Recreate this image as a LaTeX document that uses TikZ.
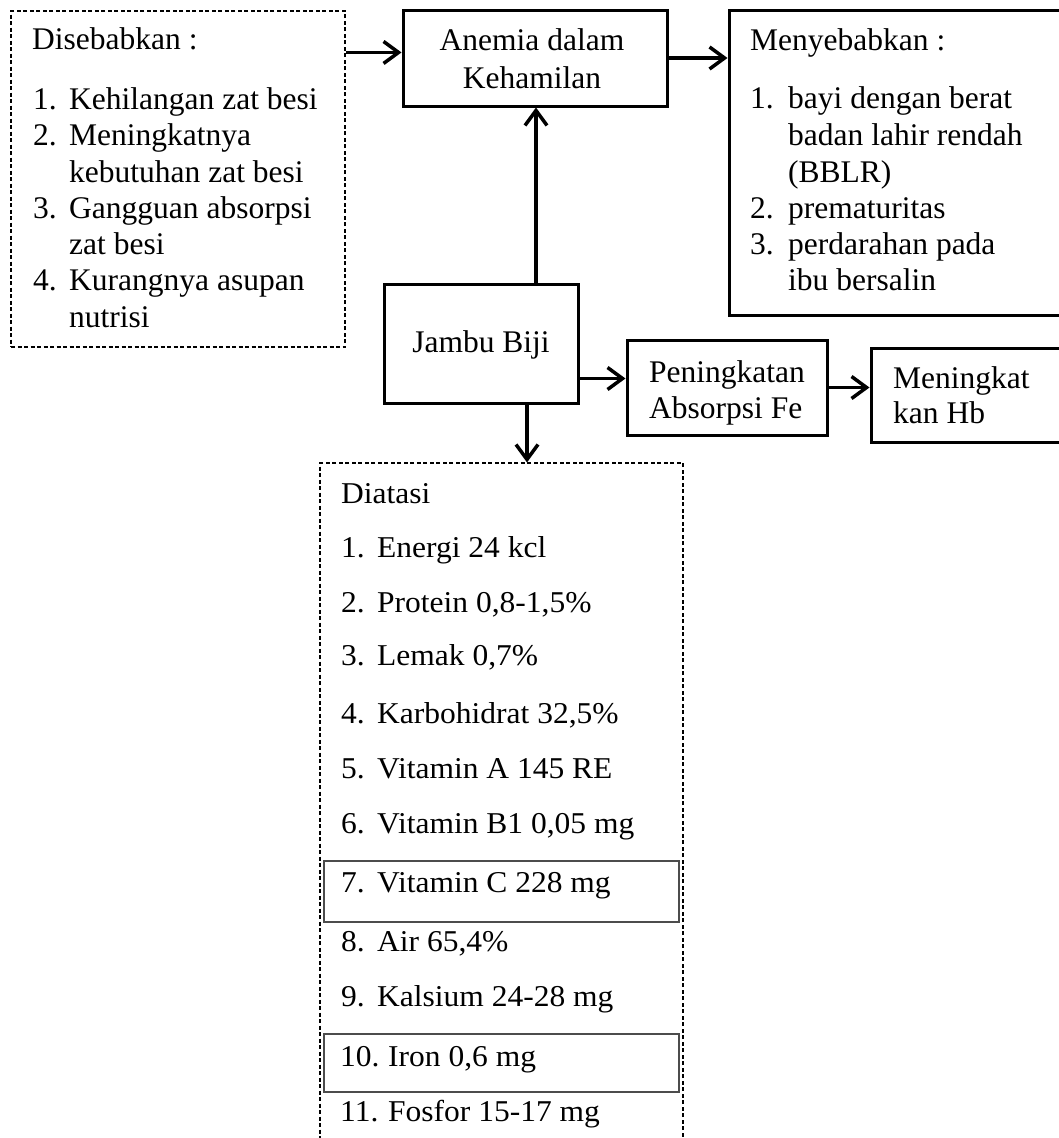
\documentclass[tikz,border=0pt]{standalone}
\usepackage{fontspec}
\setmainfont{Liberation Serif}
\usepackage{graphicx}
\usetikzlibrary{arrows.meta}
\newcommand{\sq}[1]{\scalebox{1}[0.96]{#1}}
\begin{document}
\begin{tikzpicture}[x=1pt,y=-1pt,
  solidbox/.style={draw,line width=3pt,inner sep=0pt},
  dashbox/.style={draw,line width=1.1pt,dash pattern=on 4pt off 2.5pt,inner sep=0pt},
  thinbox/.style={draw=black!70,line width=1.6pt,inner sep=0pt},
  txt/.style={inner sep=0pt,anchor=base west,font=\fontsize{31.5}{36}\selectfont},
  ctxt/.style={txt,anchor=base},
  arr/.style={line width=3.5pt,-{Straight Barb[length=15pt,width=22pt,line width=3.5pt]}}]
\useasboundingbox (0,0) rectangle (1059,1138);
\clip (0,0) rectangle (1059,1138);

% boxes
\node[dashbox,minimum width=334pt,minimum height=336pt] (cause) at (178,179) {};
\node[solidbox,minimum width=264pt,minimum height=96pt] (anem) at (535,58) {};
\node[solidbox,minimum width=351pt,minimum height=305pt] (eff) at (904.5,162.5) {};
\node[solidbox,minimum width=194pt,minimum height=119pt] (jambu) at (481,343.5) {};
\node[solidbox,minimum width=200pt,minimum height=95pt] (pen) at (727,387.5) {};
\node[solidbox,minimum width=209pt,minimum height=94pt] (hb) at (975.5,395) {};
\node[dashbox,minimum width=363pt,minimum height=707pt] (diet) at (501.5,816.5) {};
\node[thinbox,minimum width=355pt,minimum height=61pt] (vitc) at (501.5,891.5) {};
\node[thinbox,minimum width=355pt,minimum height=58pt] (iron) at (501.5,1063) {};

% cause text
\node[txt] (ch) at (32,49) {Disebabkan :};
\node[txt] (cn1) at (33,109) {1.};
\node[txt] (ct1) at (69,109) {Kehilangan zat besi};
\node[txt] (cn2) at (33,145) {2.};
\node[txt] (ct2) at (69,145) {Meningkatnya};
\node[txt] (ct2b) at (69,182) {kebutuhan zat besi};
\node[txt] (cn3) at (33,218) {3.};
\node[txt] (ct3) at (69,218) {Gangguan absorpsi};
\node[txt] (ct3b) at (69,254) {zat besi};
\node[txt] (cn4) at (33,290) {4.};
\node[txt] (ct4) at (69,290) {Kurangnya asupan};
\node[txt] (ct4b) at (69,327) {nutrisi};

% anemia text
\node[ctxt] (at1) at (532,50) {Anemia dalam};
\node[ctxt] (at2) at (532,88) {Kehamilan};

% effect text
\node[txt] (eh) at (750,50) {Menyebabkan :};
\node[txt] (en1) at (750,108) {1.};
\node[txt] (et1) at (788,108) {bayi dengan berat};
\node[txt] (et1b) at (788,145) {badan lahir rendah};
\node[txt] (et1c) at (788,182) {(BBLR)};
\node[txt] (en2) at (750,218) {2.};
\node[txt] (et2) at (788,218) {prematuritas};
\node[txt] (en3) at (750,254) {3.};
\node[txt] (et3) at (788,254) {perdarahan pada};
\node[txt] (et3b) at (788,290) {ibu bersalin};

% jambu, pen, hb text
\node[ctxt] (jt) at (481,352) {Jambu Biji};
\node[txt] (pt1) at (649,382) {Peningkatan};
\node[txt] (pt2) at (649,418) {Absorpsi Fe};
\node[txt] (ht1) at (893,388) {Meningkat};
\node[txt] (ht2) at (893,423) {kan Hb};

% diet text
\node[txt] (dh) at (341,503) {\sq{Diatasi}};
\node[txt] (dn1) at (341,557) {\sq{1.}};
\node[txt] (dt1) at (377,557) {\sq{Energi 24 kcl}};
\node[txt] (dn2) at (341,612) {\sq{2.}};
\node[txt] (dt2) at (377,612) {\sq{Protein 0,8-1,5\%}};
\node[txt] (dn3) at (341,665) {\sq{3.}};
\node[txt] (dt3) at (377,665) {\sq{Lemak 0,7\%}};
\node[txt] (dn4) at (341,723) {\sq{4.}};
\node[txt] (dt4) at (377,723) {\sq{Karbohidrat 32,5\%}};
\node[txt] (dn5) at (341,778) {\sq{5.}};
\node[txt] (dt5) at (377,778) {\sq{Vitamin A 145 RE}};
\node[txt] (dn6) at (341,833) {\sq{6.}};
\node[txt] (dt6) at (377,833) {\sq{Vitamin B1 0,05 mg}};
\node[txt] (dn7) at (341,892) {\sq{7.}};
\node[txt] (dt7) at (377,892) {\sq{Vitamin C 228 mg}};
\node[txt] (dn8) at (341,951) {\sq{8.}};
\node[txt] (dt8) at (377,951) {\sq{Air 65,4\%}};
\node[txt] (dn9) at (341,1006) {\sq{9.}};
\node[txt] (dt9) at (377,1006) {\sq{Kalsium 24-28 mg}};
\node[txt] (dn10) at (340,1066) {\sq{10.}};
\node[txt] (dt10) at (388,1066) {\sq{Iron 0,6 mg}};
\node[txt] (dn11) at (340,1121) {\sq{11.}};
\node[txt] (dt11) at (388,1121) {\sq{Fosfor 15-17 mg}};

% connectors
\draw[arr] ([yshift=-42pt]cause.north east) coordinate (a1) -- (a1 -| anem.west);
\draw[arr] (anem.east) -- (anem.east -| eff.west);
\draw[arr] ([xshift=55pt]jambu.north) coordinate (a3) -- (a3 |- anem.south);
\draw[arr] ([xshift=46pt]jambu.south) coordinate (a4) -- (a4 |- diet.north);
\draw[arr] ([yshift=-35pt]jambu.east) coordinate (a5) -- (a5 -| pen.west);
\draw[arr] (pen.east) -- (pen.east -| hb.west);
\end{tikzpicture}
\end{document}
